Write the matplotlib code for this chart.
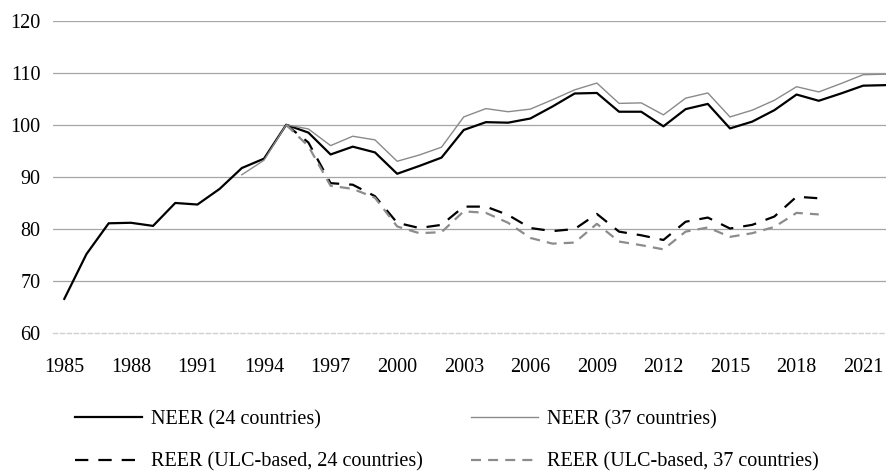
import matplotlib
matplotlib.use("Agg")
import matplotlib.pyplot as plt
import numpy as np

nan = np.nan

years = list(range(1985, 2023))

neer_24 = [66.6, 75.2, 81.1, 81.2, 80.6, 85.0, 84.7, 87.7, 91.7, 93.5, 100.0,
           98.5, 94.3, 95.8, 94.7, 90.6, 92.1, 93.7, 99.0, 100.5, 100.4, 101.2, 103.5, 106.0, 106.1,
           102.5, 102.5, 99.7, 103.0, 104.0, 99.3, 100.6, 102.8, 105.8, 104.6, 106.0, 107.5, 107.6]

neer_37 = [nan, nan, nan, nan, nan, nan, nan, nan, 90.4, 93.2, 100.0,
           99.2, 96.0, 97.8, 97.1, 93.0, 94.2, 95.7, 101.5, 103.1, 102.5, 103.0, 104.8, 106.7, 108.0,
           104.1, 104.2, 101.9, 105.1, 106.1, 101.5, 102.8, 104.7, 107.3, 106.3, 107.9, 109.6, 109.7]

reer_24 = [nan, nan, nan, nan, nan, nan, nan, nan, nan, nan, 100.0,
           96.6, 88.8, 88.5, 86.3, 81.2, 80.2, 80.8, 84.3, 84.3, 82.7, 80.2, 79.6, 80.0, 82.9,
           79.5, 78.8, 77.9, 81.4, 82.2, 80.1, 80.8, 82.4, 86.2, 85.9, nan, nan, nan]

reer_37 = [nan, nan, nan, nan, nan, nan, nan, nan, nan, nan, 100.0,
           95.9, 88.3, 87.7, 86.0, 80.5, 79.2, 79.4, 83.4, 83.1, 81.2, 78.3, 77.2, 77.4, 81.0,
           77.6, 76.9, 76.1, 79.5, 80.3, 78.5, 79.2, 80.4, 83.1, 82.8, nan, nan, nan]

labels = ["NEER (24 countries)", "NEER (37 countries)",
          "REER (ULC-based, 24 countries)", "REER (ULC-based, 37 countries)"]

plt.rcParams["font.family"] = ["Liberation Serif", "DejaVu Serif"]
plt.rcParams["font.size"] = 14.5

W, H = 887, 474
fig = plt.figure(figsize=(W / 100, H / 100), dpi=100)
left, right, top, bottom = 53.2, 887, 20.5, 333.3
ax = fig.add_axes([left / W, 1 - bottom / H, (right - left) / W, (bottom - top) / H])

x = np.arange(len(years))
l1, = ax.plot(x, neer_24, color="black", lw=1.6)
l2, = ax.plot(x, neer_37, color="#8a8a8a", lw=1.0)
l3, = ax.plot(x, reer_24, color="black", lw=1.6, linestyle=(0, (6, 4.5)))
l4, = ax.plot(x, reer_37, color="#8c8c8c", lw=1.6, linestyle=(0, (4.5, 3.2)))

cat_w = 22.19
ax.set_xlim(-0.5, -0.5 + (right - left) / cat_w)
ax.set_ylim(60, 120)
ax.set_yticks(range(60, 121, 10))
ax.set_xticks(x[::3])
ax.set_xticklabels([str(y) for y in years[::3]])
ax.tick_params(axis="both", length=0)
ax.tick_params(axis="y", pad=9)
ax.tick_params(axis="x", pad=18)

for s in ["top", "right", "left"]:
    ax.spines[s].set_visible(False)
ax.spines["bottom"].set_color("#d0d0d0")
ax.spines["bottom"].set_linestyle((0, (3, 2)))
ax.spines["bottom"].set_linewidth(1.0)

ax.grid(axis="y", color="#a6a6a6", lw=0.9)
ax.get_ygridlines()[0].set_visible(False)
ax.set_axisbelow(True)

fig.legend([l1, l3, l2, l4], [labels[0], labels[2], labels[1], labels[3]],
           loc="upper left", bbox_to_anchor=(75 / W, 1 - 410 / H), ncol=2,
           frameon=False, borderpad=0, borderaxespad=0, handlelength=3.33,
           handletextpad=0.45, columnspacing=2.4, labelspacing=1.15)

fig.savefig("out.png", dpi=100)
